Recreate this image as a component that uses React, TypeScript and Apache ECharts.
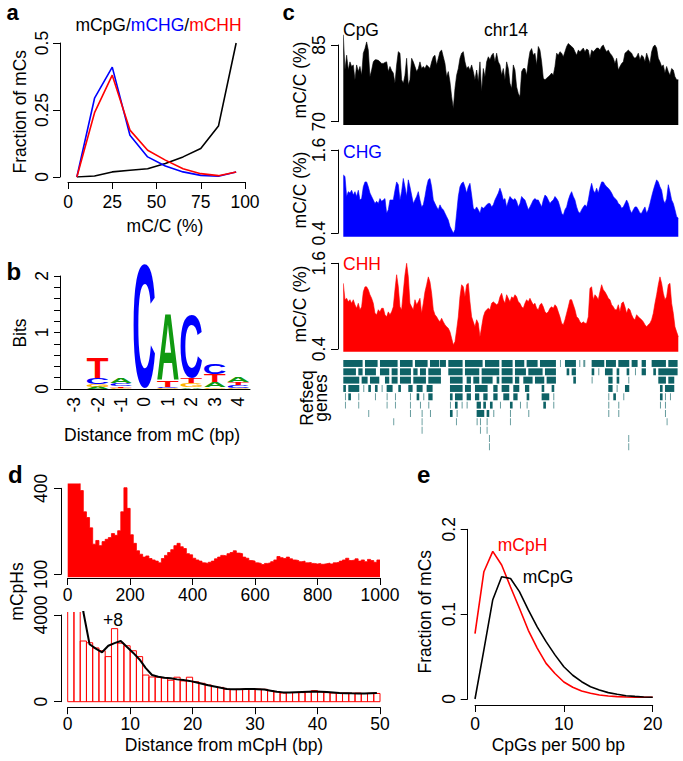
import React, { useEffect, useRef } from 'react';
import * as echarts from 'echarts';

// ---------------- data ----------------
// panel a
const A_X = [5, 15, 25, 35, 45, 55, 65, 75, 85, 95];
const A_CPG = [0, 0.004, 0.019, 0.025, 0.031, 0.05, 0.075, 0.106, 0.19, 0.5];
const A_CHG = [0, 0.294, 0.41, 0.156, 0.075, 0.041, 0.019, 0.006, 0.003, 0.019];
const A_CHH = [0, 0.24, 0.38, 0.175, 0.1, 0.063, 0.031, 0.0125, 0.005, 0.019];
const A_Y_TICKS = [0, 0.25, 0.5];

// panel b (bits per letter at each position)
const B_POS = [-3, -2, -1, 0, 1, 2, 3, 4];
const B_LETTERS = ['A', 'C', 'G', 'T'];
const B_A = [0.005, 0.04, 0.09, 0, 1.16, 0.03, 0.09, 0.09];
const B_C = [0.005, 0.12, 0.05, 2.2, 0.02, 1.12, 0.18, 0.05];
const B_G = [0.004, 0.04, 0.02, 0, 0.01, 0.07, 0.03, 0.02];
const B_T = [0.006, 0.36, 0.03, 0, 0.12, 0.1, 0.14, 0.05];
const B_Y_LABELS = [0, 1, 2];

// panel c (chr14 bins, step C_BIN)
const C_BIN = 5;
const C_CPG = [
  87.0, 80.1, 83.0, 80.1, 81.7, 80.8, 81.1, 78.2, 81.1, 79.8,
  80.8, 79.1, 83.4, 84.3, 85.6, 84.0, 78.8, 80.1, 81.7, 82.1,
  82.1, 82.0, 81.7, 81.4, 81.4, 81.6, 81.7, 79.8, 80.8, 80.0,
  79.5, 77.5, 81.1, 83.7, 83.4, 78.2, 77.5, 79.1, 82.4, 77.2,
  78.2, 82.4, 81.7, 80.8, 79.8, 80.4, 81.7, 80.4, 80.8, 80.4,
  81.1, 80.8, 80.4, 81.7, 82.7, 83.0, 81.1, 82.4, 83.7, 84.0,
  82.7, 81.4, 78.8, 79.8, 77.8, 74.9, 72.6, 76.5, 79.1, 80.4,
  82.4, 83.4, 83.7, 81.7, 80.4, 80.8, 80.1, 81.1, 79.8, 78.2,
  80.1, 77.8, 81.7, 75.9, 80.4, 78.8, 81.7, 82.7, 82.1, 83.0,
  83.4, 81.7, 83.4, 81.7, 81.1, 79.1, 80.4, 78.2, 81.7, 80.4,
  77.5, 76.5, 81.1, 80.1, 76.8, 75.5, 74.9, 79.8, 80.4, 80.4,
  79.1, 81.7, 83.7, 84.3, 83.0, 83.4, 81.1, 84.7, 84.0, 81.7,
  78.5, 78.2, 78.5, 78.8, 79.1, 79.5, 79.1, 80.8, 83.4, 83.0,
  83.7, 83.4, 82.7, 83.7, 84.7, 85.3, 85.0, 84.7, 84.4, 83.7,
  83.0, 84.0, 83.7, 84.0, 84.4, 83.7, 84.2, 84.0, 82.4, 84.0,
  83.7, 84.0, 84.4, 84.4, 84.0, 84.7, 85.0, 84.2, 83.7, 84.0,
  83.4, 83.0, 82.4, 81.4, 82.4, 80.1, 80.8, 81.4, 81.7, 83.4,
  83.7, 84.0, 83.7, 83.4, 82.7, 82.4, 82.7, 83.4, 82.1, 83.0,
  82.7, 81.7, 83.4, 82.4, 81.4, 83.7, 84.7, 85.0, 84.4, 82.4,
  81.7, 80.8, 81.1, 79.5, 80.8, 79.8, 79.1, 80.4, 80.1, 78.8,
  78.2, 78.2,
];
const C_CHG = [
  1.24, 1.22, 0.93, 1.00, 0.98, 1.02, 0.95, 1.00, 0.93, 1.02,
  0.88, 0.90, 1.07, 1.14, 1.14, 1.07, 0.98, 0.93, 0.88, 0.83,
  0.86, 0.83, 0.90, 0.86, 0.88, 0.90, 0.69, 0.74, 0.88, 0.88,
  0.88, 1.02, 1.14, 1.10, 0.88, 1.00, 1.19, 1.07, 0.93, 1.17,
  1.07, 0.95, 0.83, 0.88, 0.93, 1.00, 0.88, 0.78, 0.81, 0.93,
  1.07, 1.17, 1.19, 1.07, 0.88, 0.83, 0.78, 0.74, 0.81, 0.76,
  0.74, 0.69, 0.64, 0.59, 0.50, 0.45, 0.40, 0.45, 0.69, 0.93,
  1.07, 1.12, 1.14, 1.07, 0.98, 1.07, 1.12, 0.95, 0.76, 0.74,
  0.78, 0.74, 0.69, 0.78, 0.76, 0.78, 0.81, 0.83, 0.83, 0.78,
  0.81, 0.88, 0.93, 0.98, 1.05, 0.98, 0.88, 0.90, 0.78, 0.86,
  0.93, 0.90, 0.88, 0.90, 0.86, 0.78, 0.83, 0.93, 0.90, 0.88,
  0.81, 0.74, 0.78, 0.83, 0.88, 0.90, 0.88, 0.88, 0.83, 0.78,
  0.88, 0.95, 0.93, 0.88, 0.83, 0.86, 0.88, 0.93, 0.90, 0.86,
  0.78, 0.69, 0.66, 0.74, 0.78, 0.88, 0.95, 1.00, 0.93, 0.88,
  0.78, 0.71, 0.69, 0.74, 0.78, 0.81, 0.78, 0.88, 1.02, 1.12,
  1.02, 0.98, 1.05, 0.98, 1.07, 1.14, 1.14, 1.10, 1.07, 1.05,
  1.02, 0.98, 0.93, 0.90, 0.88, 0.83, 0.81, 0.76, 0.78, 0.83,
  0.88, 0.83, 0.74, 0.69, 0.74, 0.78, 0.78, 0.74, 0.69, 0.69,
  0.74, 0.78, 0.69, 0.74, 0.83, 0.93, 1.02, 1.10, 1.17, 1.14,
  1.07, 1.02, 0.88, 0.83, 0.90, 1.10, 1.00, 0.88, 0.83, 0.74,
  0.64, 0.62,
];
const C_CHH = [
  1.32, 1.09, 1.11, 1.06, 1.09, 1.04, 1.09, 1.02, 0.97, 1.04,
  0.95, 0.99, 1.20, 1.27, 1.27, 1.23, 1.16, 1.11, 1.04, 0.90,
  0.88, 0.95, 0.92, 0.97, 0.97, 0.88, 0.85, 0.92, 0.88, 0.92,
  0.99, 1.23, 1.44, 1.27, 0.99, 0.95, 1.20, 1.44, 1.60, 1.41,
  1.04, 0.99, 0.95, 1.09, 1.02, 1.06, 1.11, 0.90, 1.04, 1.20,
  1.30, 1.41, 1.34, 1.18, 0.95, 0.88, 0.85, 0.81, 0.78, 0.83,
  0.78, 0.74, 0.71, 0.69, 0.64, 0.55, 0.46, 0.50, 0.67, 0.85,
  1.13, 1.30, 1.27, 1.13, 1.30, 1.32, 1.06, 0.85, 0.78, 0.71,
  0.81, 0.76, 0.57, 0.71, 0.85, 0.92, 0.95, 0.97, 0.95, 1.04,
  1.06, 1.04, 1.02, 1.04, 1.13, 1.18, 1.09, 1.04, 1.16, 1.11,
  1.06, 1.13, 1.11, 1.16, 1.13, 1.06, 1.04, 0.99, 0.97, 1.04,
  1.09, 1.06, 1.11, 1.06, 1.02, 1.04, 0.97, 0.95, 1.02, 1.04,
  0.99, 0.92, 0.90, 0.92, 0.97, 0.99, 0.97, 1.02, 0.99, 0.92,
  0.85, 0.76, 0.74, 0.81, 0.90, 0.99, 1.09, 1.09, 1.02, 0.95,
  0.85, 0.83, 0.78, 0.76, 0.78, 0.76, 0.76, 0.85, 1.25, 1.27,
  1.09, 1.16, 1.13, 1.09, 1.20, 1.30, 1.23, 1.20, 1.16, 1.11,
  1.09, 1.02, 0.99, 0.95, 0.95, 1.02, 0.92, 1.04, 1.06, 0.99,
  0.90, 0.97, 0.95, 0.88, 0.83, 0.81, 0.88, 0.85, 0.83, 0.81,
  0.78, 0.74, 0.71, 0.74, 0.76, 0.81, 0.90, 1.04, 1.16, 1.30,
  1.41, 1.32, 1.18, 1.09, 1.13, 1.30, 1.32, 1.04, 0.90, 0.71,
  0.64, 0.57,
];
const C_X_MAX = 1005;
// Refseq gene blocks per track row: [start, end] in the same bin units
const GENE_ROWS: number[][][] = [
  [[0, 60], [65, 105], [110, 165], [170, 210], [215, 255], [260, 290], [290, 310], [315, 360], [365, 420], [425, 470], [475, 510], [515, 545], [550, 585], [590, 640], [650, 653], [665, 700], [708, 713], [720, 728], [745, 785], [788, 820], [825, 860], [865, 885], [895, 910], [925, 970], [975, 1005]],
  [[0, 40], [45, 60], [65, 100], [110, 140], [145, 165], [170, 205], [210, 225], [230, 250], [255, 295], [315, 360], [365, 410], [415, 470], [475, 510], [515, 550], [555, 600], [605, 640], [670, 680], [685, 700], [745, 755], [765, 770], [785, 810], [820, 830], [850, 860], [875, 880], [895, 910], [930, 940], [945, 1005]],
  [[0, 50], [55, 75], [80, 110], [125, 140], [145, 165], [170, 205], [210, 250], [255, 295], [320, 360], [370, 385], [390, 410], [415, 450], [460, 470], [475, 510], [515, 530], [540, 570], [575, 605], [610, 640], [690, 700], [745, 750], [795, 810], [820, 830], [855, 860], [945, 970], [975, 995]],
  [[0, 10], [15, 50], [60, 65], [75, 85], [95, 105], [115, 120], [130, 150], [165, 175], [195, 210], [220, 240], [250, 270], [320, 360], [365, 385], [395, 435], [450, 465], [475, 500], [510, 530], [545, 560], [595, 605], [625, 635], [795, 810], [820, 825], [845, 860], [950, 960], [965, 995]],
  [[5, 10], [15, 25], [45, 50], [95, 100], [130, 135], [155, 160], [200, 205], [220, 230], [240, 245], [255, 270], [320, 330], [335, 360], [370, 385], [395, 410], [420, 435], [450, 465], [480, 500], [510, 525], [550, 560], [595, 620], [630, 635], [795, 800], [810, 820], [840, 845], [950, 960], [965, 970], [980, 985]],
  [[5, 7], [45, 48], [130, 132], [155, 158], [200, 204], [230, 235], [255, 260], [320, 325], [335, 345], [355, 360], [370, 375], [400, 415], [420, 430], [440, 450], [470, 475], [500, 510], [530, 535], [550, 555], [600, 610], [630, 635], [795, 800], [825, 830], [950, 955], [965, 970]],
  [[75, 78], [200, 205], [235, 240], [260, 265], [320, 330], [340, 345], [400, 425], [430, 440], [450, 455], [500, 505], [555, 560], [795, 800], [825, 830], [965, 970]],
  [[150, 153], [235, 238], [338, 342], [400, 405], [410, 415], [430, 435], [500, 503], [970, 973]],
  [[235, 238], [410, 413], [430, 433]],
  [[437, 440], [855, 858]],
  [[437, 440], [855, 858]],
];

// panel d (top: 10-bp bins 0..1000, bottom: 1-bp bins 0..50)
const D_TOP_BIN = 10;
const D_TOP = [
  480, 480, 480, 480, 392, 318, 298, 262, 205, 218,
  200, 214, 222, 228, 242, 236, 252, 318, 402, 330,
  238, 208, 182, 170, 160, 164, 155, 150, 146, 140,
  155, 166, 176, 186, 200, 208, 196, 190, 172, 168,
  156, 150, 146, 140, 138, 142, 146, 154, 160, 166,
  164, 172, 176, 182, 174, 172, 160, 156, 148, 146,
  140, 138, 134, 138, 140, 144, 150, 162, 158, 155,
  160, 154, 150, 148, 144, 146, 140, 141, 138, 136,
  138, 135, 137, 139, 136, 140, 142, 146, 150, 156,
  148, 150, 154, 146, 150, 144, 152, 148, 142, 150,
];
const D_BOT = [
  9000, 5200, 2800, 2720, 2480, 2350, 2080, 3370, 2700, 2580,
  2350, 2080, 1230, 1140, 1130, 1100, 990, 1130, 960, 1130,
  920, 850, 770, 700, 660, 580, 560, 570, 580, 600,
  580, 570, 510, 460, 400, 420, 420, 420, 450, 510,
  450, 420, 400, 400, 400, 390, 400, 380, 390, 380,
];
const D_BOT_SMOOTH = [
  12000, 7000, 4150, 2650, 2450, 2280, 2580, 2700, 2800, 2520,
  2250, 1950, 1550, 1230, 1150, 1110, 1080, 1030, 1000, 960,
  900, 830, 760, 700, 640, 590, 575, 580, 590, 590,
  580, 560, 510, 460, 430, 430, 440, 450, 460, 470,
  460, 445, 425, 405, 395, 385, 380, 380, 390, 400,
];

// panel e
const E_X = [0, 1, 2, 3, 4, 5, 6, 7, 8, 9, 10, 11, 12, 13, 14, 15, 16, 17, 18, 19, 20];
const E_CPH = [0.077, 0.150, 0.174, 0.158, 0.132, 0.107, 0.081, 0.060, 0.042, 0.030, 0.020, 0.0138, 0.0094, 0.0067, 0.0047, 0.0035, 0.0028, 0.0024, 0.0021, 0.0020, 0.0020];
const E_CPG = [0, 0.058, 0.117, 0.144, 0.142, 0.1265, 0.105, 0.085, 0.0676, 0.052, 0.038, 0.028, 0.0204, 0.0145, 0.0106, 0.0075, 0.0055, 0.0039, 0.0031, 0.0024, 0.002];

// ---------------- styles / layout ----------------
const FONT = '"Liberation Sans", Arial, Helvetica, sans-serif';
const FS = 17.5;
const BLUE = '#0000ff';
const RED = '#ff0000';
const TEAL = '#0e6266';
const LOGO_COLORS: Record<string, string> = { A: '#109a10', C: '#0000ff', G: '#ffb300', T: '#ff0000' };
const LS = { color: '#000', width: 1 };
const fmt = (v: number) => String(Number(Number(v).toFixed(6)));

function grid(l: number, t: number, r: number, b: number) {
  return { left: l, top: t, width: r - l, height: b - t, containLabel: false, outerBoundsMode: 'none', show: false };
}
function extend(pTop: number, vTop: number, pBot: number, vBot: number, top: number, bottom: number) {
  const k = (vTop - vBot) / (pBot - pTop);
  return { min: vBot - (bottom - pBot) * k, max: vTop + (pTop - top) * k };
}
function hid(gridIndex: number, min: number, max: number, inverse = false) {
  return {
    type: 'value', gridIndex, min, max, inverse, show: false,
    splitLine: { show: false }, axisLine: { show: false }, axisTick: { show: false }, axisLabel: { show: false },
  };
}
function ax(gridIndex: number, min: number, max: number, o: any) {
  const { interval, ticks, labels, offset = 0, margin = 10, rotate = 0, tickLen = 7, showTicks = true } = o;
  const a: any = {
    type: 'value', gridIndex, min, max, offset,
    splitLine: { show: false },
    axisLine: { show: true, onZero: false, lineStyle: LS },
    axisTick: { show: showTicks, length: tickLen, lineStyle: LS },
    axisLabel: {
      show: true, margin, rotate, fontSize: FS, fontFamily: FONT, color: '#000', formatter: fmt,
      hideOverlap: false, showMinLabel: true, showMaxLabel: true,
    },
  };
  if (interval) a.interval = interval;
  if (ticks) a.axisTick.customValues = ticks;
  if (labels) a.axisLabel.customValues = labels;
  return a;
}
function txt(text: string, x: number, y: number, o: any = {}) {
  const size = o.size || FS;
  const weight = o.weight || 'normal';
  return {
    type: 'text', x, y, rotation: o.rot ? Math.PI / 2 : 0, silent: true, z: 10,
    style: {
      text, fill: o.fill || '#000', font: `${weight} ${size}px ${FONT}`,
      align: o.align || 'center', verticalAlign: 'middle', rich: o.rich,
    },
  };
}

function letterMetrics() {
  const F = 100;
  const cv = document.createElement('canvas');
  const ctx = cv.getContext('2d') as CanvasRenderingContext2D;
  ctx.font = `bold ${F}px ${FONT}`;
  const L: Record<string, any> = {};
  for (const ch of B_LETTERS) {
    const m = ctx.measureText(ch);
    L[ch] = {
      asc: m.actualBoundingBoxAscent || 0.716 * F,
      desc: m.actualBoundingBoxDescent || 0,
      left: m.actualBoundingBoxLeft || 0,
      right: m.actualBoundingBoxRight || 0.7 * F,
    };
  }
  const mm: any = ctx.measureText('C');
  const fa = mm.fontBoundingBoxAscent || 0.905 * F;
  const fd = mm.fontBoundingBoxDescent || 0.212 * F;
  return { F, L, central: (fa - fd) / 2 };
}

function buildOption() {
  const M = letterMetrics();
  const B_H = [B_A, B_C, B_G, B_T];

  const cpgR = extend(45, 85, 121.7, 70, 33, 125);
  const chgR = extend(150, 1.6, 233.3, 0.4, 140, 236.7);
  const chhR = extend(263.3, 1.6, 349, 0.4, 255, 351.7);
  const dTopR = extend(488.3, 400, 574.3, 100, 484, 577.3);
  const dBotR = extend(615, 4000, 701.7, 0, 612, 701.7);

  const CL = 343.3, CR = 678.3, DL = 67.7, DR = 380;

  const grids = [
    grid(68, 43, 245, 177),      // 0 a
    grid(60, 276, 250, 389),     // 1 b
    grid(CL, 33, CR, 125),       // 2 CpG data
    grid(CL, 45, CR, 121.7),     // 3 CpG axis
    grid(CL, 140, CR, 236.7),    // 4 CHG data
    grid(CL, 150, CR, 233.3),    // 5 CHG axis
    grid(CL, 255, CR, 351.7),    // 6 CHH data
    grid(CL, 263.3, CR, 349),    // 7 CHH axis
    grid(CL, 360, CR, 451.7),    // 8 genes
    grid(DL, 484, DR, 577.3),    // 9 d top data
    grid(DL, 488.3, DR, 574.3),  // 10 d top axis
    grid(DL, 612, DR, 701.7),    // 11 d bottom data
    grid(DL, 615, DR, 701.7),    // 12 d bottom axis
    grid(475, 529.3, 652.7, 699), // 13 e
  ];

  const xAxes = [
    ax(0, 0, 100, { interval: 25, offset: 5, margin: 11 }),
    ax(1, -3.6, 4.5, { labels: B_POS, showTicks: false, rotate: 90, margin: 8 }),
    hid(2, 0, C_X_MAX), hid(3, 0, 1),
    hid(4, 0, C_X_MAX), hid(5, 0, 1),
    hid(6, 0, C_X_MAX), hid(7, 0, 1),
    hid(8, 0, C_X_MAX),
    ax(9, 0, 1000, { interval: 200, offset: 0.7, margin: 8 }),
    hid(10, 0, 1),
    ax(11, 0, 50, { interval: 10, offset: 5.5, margin: 7.5 }),
    hid(12, 0, 1),
    ax(13, 0, 20, { interval: 10, offset: 6, margin: 9.5 }),
  ];
  const yAxes = [
    ax(0, 0, 0.5, { ticks: A_Y_TICKS, labels: A_Y_TICKS, offset: 8, margin: 9.5, rotate: 90 }),
    ax(1, 0, 2, { interval: 0.2, labels: B_Y_LABELS, offset: 0, margin: 9.5, rotate: 90, tickLen: 6 }),
    hid(2, cpgR.min, cpgR.max),
    ax(3, 70, 85, { ticks: [70, 85], labels: [70, 85], offset: 5.3, margin: 10.5, rotate: 90 }),
    hid(4, chgR.min, chgR.max),
    ax(5, 0.4, 1.6, { ticks: [0.4, 1.6], labels: [0.4, 1.6], offset: 5.3, margin: 10.5, rotate: 90 }),
    hid(6, chhR.min, chhR.max),
    ax(7, 0.4, 1.6, { ticks: [0.4, 1.6], labels: [0.4, 1.6], offset: 5.3, margin: 10.5, rotate: 90 }),
    hid(8, 0, GENE_ROWS.length, true),
    hid(9, dTopR.min, dTopR.max),
    ax(10, 100, 400, { ticks: [100, 400], labels: [100, 400], offset: 6.7, margin: 11, rotate: 90 }),
    hid(11, dBotR.min, dBotR.max),
    ax(12, 0, 4000, { ticks: [0, 4000], labels: [0, 4000], offset: 6.7, margin: 11, rotate: 90 }),
    ax(13, 0, 0.2, { interval: 0.1, offset: 7.3, margin: 9.5, rotate: 90 }),
  ];

  const zip = (xs: number[], ys: number[]) => ys.map((y, i) => [xs[i], y]);
  const binned = (ys: number[], step: number) => ys.map((y, i) => [i * step, y]);
  const line = (idx: number, data: any[], color: string, width: number, extra: any = {}) => ({
    type: 'line', xAxisIndex: idx, yAxisIndex: idx, data, symbol: 'none', showSymbol: false,
    lineStyle: { color, width }, itemStyle: { color }, silent: true, ...extra,
  });
  const area = (idx: number, data: any[], color: string) =>
    line(idx, data, color, 0.6, { areaStyle: { color, opacity: 1, origin: 'start' } });

  const geneData: number[][] = [];
  GENE_ROWS.forEach((row, r) => row.forEach(([s, e]) => geneData.push([s, e, r])));

  const dTopData = binned(D_TOP, D_TOP_BIN);
  dTopData.push([D_TOP.length * D_TOP_BIN, D_TOP[D_TOP.length - 1]]);

  const series: any[] = [
    // a
    line(0, zip(A_X, A_CPG), '#000', 1.6),
    line(0, zip(A_X, A_CHG), BLUE, 1.6),
    line(0, zip(A_X, A_CHH), RED, 1.6),
    // b logo
    {
      type: 'custom', xAxisIndex: 1, yAxisIndex: 1, silent: true,
      data: B_POS.map((p) => [p, 0]), encode: { x: 0, y: 1 },
      renderItem: (params: any, api: any) => {
        const i = params.dataIndex;
        const pos = B_POS[i];
        const stack = B_LETTERS.map((ch, j) => ({ ch, h: B_H[j][i] })).sort((a, b) => a.h - b.h);
        let base = 0;
        const children: any[] = [];
        for (const s of stack) {
          const p0 = api.coord([pos - 0.46, base]);
          const p1 = api.coord([pos + 0.46, base + s.h]);
          base += s.h;
          const hPx = p0[1] - p1[1];
          const wPx = p1[0] - p0[0];
          if (hPx < 0.5) continue;
          const m = M.L[s.ch];
          children.push({
            type: 'text', x: p0[0], y: p0[1],
            scaleX: wPx / (m.left + m.right), scaleY: hPx / (m.asc + m.desc),
            style: {
              text: s.ch, x: m.left, y: -m.desc - M.central,
              font: `bold ${M.F}px ${FONT}`, fill: LOGO_COLORS[s.ch], align: 'left', verticalAlign: 'middle',
            },
          });
        }
        return { type: 'group', children };
      },
    },
    // c tracks
    area(2, binned(C_CPG, C_BIN), '#000'),
    area(4, binned(C_CHG, C_BIN), BLUE),
    area(6, binned(C_CHH, C_BIN), RED),
    {
      type: 'custom', xAxisIndex: 8, yAxisIndex: 8, silent: true,
      data: geneData, encode: { x: [0, 1], y: 2 },
      renderItem: (params: any, api: any) => {
        const s = api.value(0), e = api.value(1), r = api.value(2);
        const a = api.coord([s, r]);
        const b = api.coord([e, r + 1]);
        const w = Math.max(b[0] - a[0] - 0.7, 0.9);
        const y = Math.min(a[1], b[1]);
        const h = Math.abs(b[1] - a[1]) - 1.4;
        return { type: 'rect', shape: { x: a[0], y, width: w, height: h }, style: { fill: w < 2 ? '#5f9799' : TEAL } };
      },
    },
    // d top
    line(9, dTopData, RED, 0.8, { step: 'end', areaStyle: { color: RED, opacity: 1, origin: 'start' } }),
    // d bottom
    {
      type: 'custom', xAxisIndex: 11, yAxisIndex: 11, silent: true,
      data: D_BOT.map((v, k) => [k, v]), encode: { x: 0, y: 1 },
      renderItem: (params: any, api: any) => {
        const k = api.value(0), v = api.value(1);
        const cs = params.coordSys;
        const a = api.coord([k, 0]);
        const b = api.coord([k + 1, v]);
        const style = { stroke: RED, fill: 'none', lineWidth: 1 };
        if (b[1] < cs.y) {
          return { type: 'polyline', shape: { points: [[a[0], cs.y], [a[0], a[1]], [b[0], a[1]], [b[0], cs.y]] }, style };
        }
        return { type: 'polygon', shape: { points: [[a[0], a[1]], [a[0], b[1]], [b[0], b[1]], [b[0], a[1]]] }, style };
      },
    },
    line(11, D_BOT_SMOOTH.map((v, k) => [k + 0.5, v]), '#000', 2, { clip: true, z: 5 }),
    // e
    line(13, zip(E_X, E_CPH), RED, 1.6),
    line(13, zip(E_X, E_CPG), '#000', 1.6),
  ];

  const B = { size: 24, weight: 'bold', align: 'left' };
  const Bs = { size: 22, weight: 'bold', align: 'left' };
  const graphics = [
    txt('a', 6.5, 12.8, Bs),
    txt('b', 6.5, 271.3, B),
    txt('c', 282.5, 12.8, Bs),
    txt('d', 8, 474.6, B),
    txt('e', 417, 474.3, B),
    txt('{k|mCpG/}{b|mCHG}{k|/}{r|mCHH}', 158.5, 24.5, {
      rich: { k: { fill: '#000' }, b: { fill: BLUE }, r: { fill: RED } },
    }),
    txt('Fraction of mCs', 20, 111.7, { rot: true }),
    txt('mC/C (%)', 165, 226),
    txt('Bits', 20, 333, { rot: true }),
    txt('Distance from mC (bp)', 152, 435),
    txt('CpG', 343, 30, { align: 'left' }),
    txt('chr14', 506, 30),
    txt('CHG', 343, 151.5, { align: 'left', fill: BLUE }),
    txt('CHH', 343, 264, { align: 'left', fill: RED }),
    txt('mC/C (%)', 300, 80, { rot: true }),
    txt('mC/C (%)', 300, 190, { rot: true }),
    txt('mC/C (%)', 300, 304, { rot: true }),
    txt('Refseq', 306.5, 398, { rot: true }),
    txt('genes', 320.5, 398, { rot: true }),
    txt('mCpHs', 17, 591.5, { rot: true }),
    txt('+8', 113, 619.8),
    txt('Distance from mCpH (bp)', 224, 744.5),
    txt('Fraction of mCs', 425, 611.7, { rot: true }),
    txt('CpGs per 500 bp', 558.3, 744.8),
    txt('mCpH', 522.5, 544.7, { fill: RED }),
    txt('mCpG', 548, 576.5),
  ];

  return {
    animation: false,
    backgroundColor: '#ffffff',
    grid: grids,
    xAxis: xAxes,
    yAxis: yAxes,
    series,
    graphic: { elements: graphics },
  };
}

export default function App() {
  const ref = useRef<HTMLDivElement>(null);
  useEffect(() => {
    const el = ref.current as HTMLDivElement;
    const chart = echarts.init(el, null, { renderer: 'svg' });
    chart.setOption(buildOption() as any);
    return () => chart.dispose();
  }, []);
  return (
    <div
      ref={ref}
      style={{ position: 'fixed', left: 0, top: 0, width: 683, height: 761, background: '#fff' }}
    />
  );
}
